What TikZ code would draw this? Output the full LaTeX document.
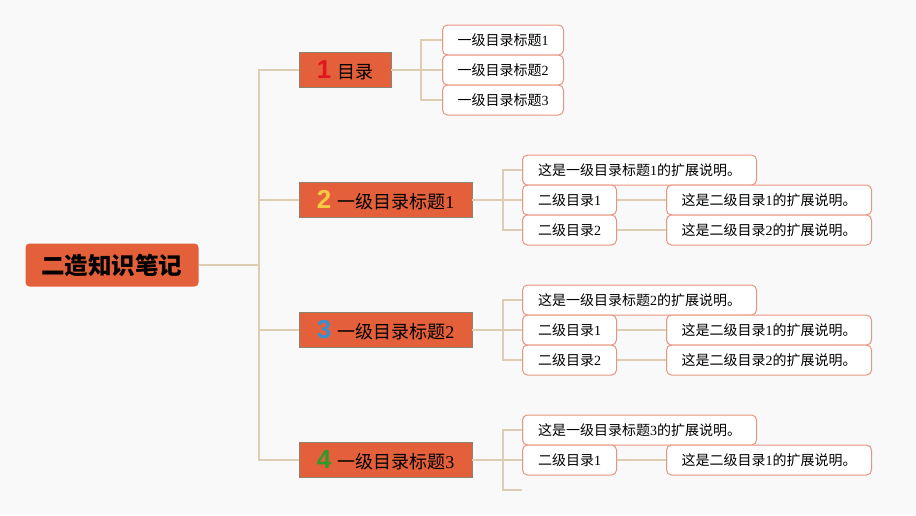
\documentclass[tikz,border=0pt]{standalone}
\usepackage{fontspec}
\setmainfont{Liberation Serif}
\newfontfamily\cjk{Noto Sans CJK SC}
\newfontfamily\numfont{Liberation Sans}
\usepackage{tikz}
\usetikzlibrary{positioning}
\definecolor{topicfill}{HTML}{E4603A}
\definecolor{topicline}{HTML}{8C8472}
\definecolor{leafline}{HTML}{E8957F}
\definecolor{linkcol}{HTML}{DDCDB2}
\definecolor{paper}{HTML}{F9F9F9}
\definecolor{numred}{HTML}{E2161E}
\definecolor{numyellow}{HTML}{F6C843}
\definecolor{numblue}{HTML}{3A8ED2}
\definecolor{numgreen}{HTML}{2D9A2C}
\newcommand{\badge}[2]{\textcolor{#1}{\numfont\bfseries\fontsize{26}{26}\selectfont #2}\hspace{6pt}}

\begin{document}
\begin{tikzpicture}
[x=1pt,y=-1pt,
root/.style = {fill=topicfill, rounded corners=4pt, minimum width=173pt, minimum height=43pt, font=\cjk\bfseries\fontsize{23.5}{25}\selectfont},
topic/.style = {fill=topicfill, draw=topicline, minimum height=35pt, anchor=west, inner sep=0pt, font=\fontsize{18}{20}\selectfont},
leaf/.style = {draw=leafline, line width=1pt, fill=white, rounded corners=5pt, minimum height=30pt, anchor=west, inner sep=0pt, font=\fontsize{14}{16}\selectfont},
link/.style = {draw=linkcol, line width=1.5pt},]

\fill[paper] (0,0) rectangle (916,515);
\useasboundingbox (0,0) rectangle (916,515);

\node (root) at (112,265)[root] {二造知识笔记};

% first level
\node (t1) at (299,70)[topic, minimum width=92pt] {\badge{numred}{1}{\cjk 目录}};
\node (t2) at (299,200)[topic, minimum width=173pt] {\badge{numyellow}{2}{\cjk 一级目录标题}1};
\node (t3) at (299,330)[topic, minimum width=173pt] {\badge{numblue}{3}{\cjk 一级目录标题}2};
\node (t4) at (299,460)[topic, minimum width=173pt] {\badge{numgreen}{4}{\cjk 一级目录标题}3};

% topic 1
\node (a1) at (442,40)[leaf, minimum width=121pt] {{\cjk 一级目录标题}1};
\node (a2) at (442,70)[leaf, minimum width=121pt] {{\cjk 一级目录标题}2};
\node (a3) at (442,100)[leaf, minimum width=121pt] {{\cjk 一级目录标题}3};

% topic 2
\node (c2) at (522,170)[leaf, minimum width=234pt] {{\cjk 这是一级目录标题}1{\cjk 的扩展说明。}};
\node (d21) at (522,200)[leaf, minimum width=94pt] {{\cjk 二级目录}1};
\node (d22) at (522,230)[leaf, minimum width=94pt] {{\cjk 二级目录}2};
\node (e21) at (666,200)[leaf, minimum width=205pt] {{\cjk 这是二级目录}1{\cjk 的扩展说明。}};
\node (e22) at (666,230)[leaf, minimum width=205pt] {{\cjk 这是二级目录}2{\cjk 的扩展说明。}};

% topic 3
\node (c3) at (522,300)[leaf, minimum width=234pt] {{\cjk 这是一级目录标题}2{\cjk 的扩展说明。}};
\node (d31) at (522,330)[leaf, minimum width=94pt] {{\cjk 二级目录}1};
\node (d32) at (522,360)[leaf, minimum width=94pt] {{\cjk 二级目录}2};
\node (e31) at (666,330)[leaf, minimum width=205pt] {{\cjk 这是二级目录}1{\cjk 的扩展说明。}};
\node (e32) at (666,360)[leaf, minimum width=205pt] {{\cjk 这是二级目录}2{\cjk 的扩展说明。}};

% topic 4
\node (c4) at (522,430)[leaf, minimum width=234pt] {{\cjk 这是一级目录标题}3{\cjk 的扩展说明。}};
\node (d41) at (522,460)[leaf, minimum width=94pt] {{\cjk 二级目录}1};
\node (e41) at (666,460)[leaf, minimum width=205pt] {{\cjk 这是二级目录}1{\cjk 的扩展说明。}};
\coordinate (end4) at (522,490);

% connectors
\coordinate (trunk) at (259,265);
\draw[link] (root.east) -- (trunk);
\draw[link] (trunk) |- (t1.west);
\draw[link] (trunk) |- (t2.west);
\draw[link] (trunk) |- (t3.west);
\draw[link] (trunk) |- (t4.west);

\coordinate (b1) at (421,70);
\draw[link] (t1.east) -- (b1);
\draw[link] (b1) |- (a1.west);
\draw[link] (b1) -- (a2.west);
\draw[link] (b1) |- (a3.west);

\coordinate (b2) at (503,200);
\draw[link] (t2.east) -- (b2);
\draw[link] (b2) |- (c2.west);
\draw[link] (b2) -- (d21.west);
\draw[link] (b2) |- (d22.west);
\draw[link] (d21.east) -- (e21.west);
\draw[link] (d22.east) -- (e22.west);

\coordinate (b3) at (503,330);
\draw[link] (t3.east) -- (b3);
\draw[link] (b3) |- (c3.west);
\draw[link] (b3) -- (d31.west);
\draw[link] (b3) |- (d32.west);
\draw[link] (d31.east) -- (e31.west);
\draw[link] (d32.east) -- (e32.west);

\coordinate (b4) at (503,460);
\draw[link] (t4.east) -- (b4);
\draw[link] (b4) |- (c4.west);
\draw[link] (b4) -- (d41.west);
\draw[link] (b4) |- (end4);
\draw[link] (d41.east) -- (e41.west);

\end{tikzpicture}
\end{document}
